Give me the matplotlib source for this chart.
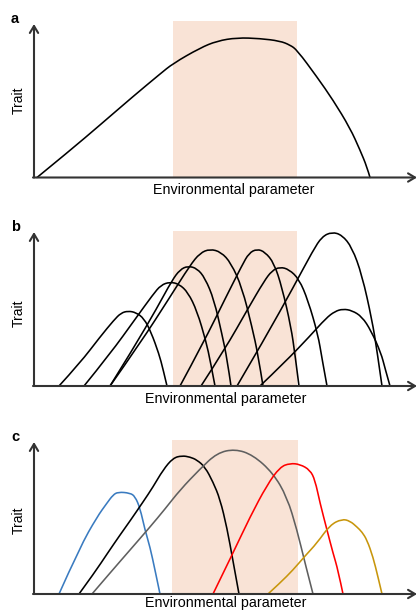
import matplotlib
matplotlib.use('Agg')
import matplotlib.pyplot as plt
from matplotlib.patches import Rectangle, PathPatch
from matplotlib.path import Path

plt.rcParams['font.family'] = ['Liberation Sans', 'DejaVu Sans']

W, H = 419, 612
SHADE = '#f9e3d6'
AXIS_COLOR = '#333333'

# panel a: one broad performance curve
A_X = [37, 70, 100, 133, 160, 173, 200, 217, 237, 260, 280, 290, 297, 317, 333, 350, 360, 367, 370]
A_Y = [0, 27, 52.5, 81, 103.5, 114, 129.5, 136.5, 139.8, 139, 136.5, 132.5, 127.5, 100.5, 77.5, 49.5, 27.5, 10.5, 0]

# panel b: eight narrow curves (all black)
B_X = [
    [59, 80, 100, 114, 121, 128, 136, 144, 151, 159, 163, 167],
    [84, 110, 136, 153, 161, 170, 179, 188, 197, 206, 210.5, 215],
    [110, 133, 157, 172, 180, 188, 197, 205, 214, 222, 227, 231],
    [110, 140, 170, 190, 200, 210, 221, 231, 242, 252, 258, 263],
    [180, 203, 226, 242, 249, 257, 265, 274, 282, 291, 295, 299],
    [201, 225, 248, 264, 272, 280, 289, 299, 308, 318, 322, 327],
    [237, 265, 294, 313, 322, 332, 342, 352, 362, 372, 377, 382],
    [260, 285, 310, 326, 335, 343, 352, 362, 371, 381, 385, 390],
]
B_Y = [
    [0, 23, 49, 66, 73, 75, 73.5, 67.5, 54, 32, 17, 0],
    [0, 32, 68, 91.5, 101, 104, 102, 93.6, 75, 44.7, 24, 0],
    [0, 37, 78, 105.6, 116.4, 120, 117.6, 108, 86.4, 51.6, 27.6, 0],
    [0, 42.5, 89, 120.6, 133, 137, 134, 123, 98.6, 59, 31.5, 0],
    [0, 42.5, 89, 120.6, 133, 137, 134, 123, 98.6, 59, 31.5, 0],
    [0, 36.9, 77.4, 104.7, 115.4, 119, 116.6, 107, 85.7, 51.2, 27.4, 0],
    [0, 47.7, 100, 135.5, 149.4, 154, 151, 138.6, 111, 66, 35.4, 0],
    [0, 23.9, 50, 67.8, 74.7, 77, 75.5, 69.3, 55.4, 33, 17.7, 0],
]

# panel c: five coloured curves
C_COLORS = ['#3a7bc0', '#000000', '#5f5f5f', '#ff0000', '#c8960c']
C_X = [
    [59, 80, 97, 107, 113, 118, 130, 135, 140, 145, 150, 155, 160],
    [79, 95, 107, 120, 130, 143, 153, 163, 173, 182, 190, 197, 205, 213, 220, 227, 233, 239],
    [92, 110, 130, 150, 165, 180, 200, 217, 235, 253, 273, 287, 297, 305, 313],
    [213, 233, 250, 267, 280, 290, 300, 310, 315, 320, 327, 333, 338, 343],
    [268, 280, 293, 305, 317, 330, 342, 350, 357, 362, 367, 373, 378, 382],
]
C_Y = [
    [0, 47, 77, 91, 99, 102, 101, 97.6, 86, 64, 47, 24, 0],
    [0, 22, 40, 59, 73, 92, 107, 124, 136, 138.3, 137, 134, 127, 112, 95, 66, 33, 0],
    [0, 21, 44, 67, 85, 104, 125, 141, 145, 139, 121, 97, 64, 31, 0],
    [0, 41, 77, 109, 127, 130.7, 129.7, 124, 114, 91, 64, 41, 24, 0],
    [0, 11, 24, 38, 51, 69, 75, 73, 67, 62, 54, 37, 17, 0],
]

# layout of each panel in pixels: band top, band bottom, baseline, axis top, shade
PANELS = [
    dict(label='a', top=0, bottom=200, base=177.5, ytop=24, shade=(173, 297, 21), trait=100, env=(234, 190), lab=(15, 19)),
    dict(label='b', top=200, bottom=410, base=386, ytop=232, shade=(173, 297, 231), trait=313, env=(226, 399), lab=(15.5, 227)),
    dict(label='c', top=410, bottom=612, base=594, ytop=442, shade=(172, 298, 440), trait=520, env=(226, 603.5), lab=(15, 437)),
]


def smooth_path(xs, ys):
    '''
    quadratic bezier path: the read points act as control points,
    the curve runs through the midpoints between them
    '''
    verts = [(xs[0], ys[0])]
    codes = [Path.MOVETO]
    for i in range(1, len(xs) - 1):
        mx = (xs[i] + xs[i + 1]) / 2
        my = (ys[i] + ys[i + 1]) / 2
        if i == len(xs) - 2:
            mx, my = xs[-1], ys[-1]
        verts += [(xs[i], ys[i]), (mx, my)]
        codes += [Path.CURVE3, Path.CURVE3]
    return Path(verts, codes)


def draw_panel(fig, p, curves):
    ax = fig.add_axes([0, 1 - p['bottom'] / H, 1, (p['bottom'] - p['top']) / H])
    base = p['base']
    ax.set_xlim(0, W)
    ax.set_ylim(base - p['bottom'], base - p['top'])
    ax.axis('off')

    x0, x1, st = p['shade']
    ax.add_patch(Rectangle((x0, 0), x1 - x0, base - st, color=SHADE, lw=0, zorder=0))

    for xs, ys, c in curves:
        ax.add_patch(PathPatch(smooth_path(xs, ys), fc='none', ec=c, lw=1.15,
                               capstyle='round', joinstyle='round', zorder=2))

    arrow = dict(arrowstyle='->,head_length=0.5,head_width=0.3', lw=1.5,
                 color=AXIS_COLOR, shrinkA=0, shrinkB=0)
    ax.annotate('', xy=(417, 0), xytext=(33, 0), arrowprops=arrow, zorder=3)
    ax.annotate('', xy=(34, base - p['ytop']), xytext=(34, 0), arrowprops=arrow, zorder=3)

    ax.text(18.5, base - p['trait'], 'Trait', rotation=90, ha='center', va='center', fontsize=10)
    ex, ey = p['env']
    ax.text(ex, base - ey, 'Environmental parameter', ha='center', va='center', fontsize=10.3)
    lx, ly = p['lab']
    ax.text(lx, base - ly, p['label'], ha='center', va='center', fontsize=10.5, fontweight='bold')


def go():
    fig = plt.figure(figsize=(W / 100, H / 100), dpi=100)
    draw_panel(fig, PANELS[0], [(A_X, A_Y, 'black')])
    draw_panel(fig, PANELS[1], [(x, y, 'black') for x, y in zip(B_X, B_Y)])
    draw_panel(fig, PANELS[2], list(zip(C_X, C_Y, C_COLORS)))
    fig.savefig('out.png', dpi=100)
    plt.close(fig)


go()
